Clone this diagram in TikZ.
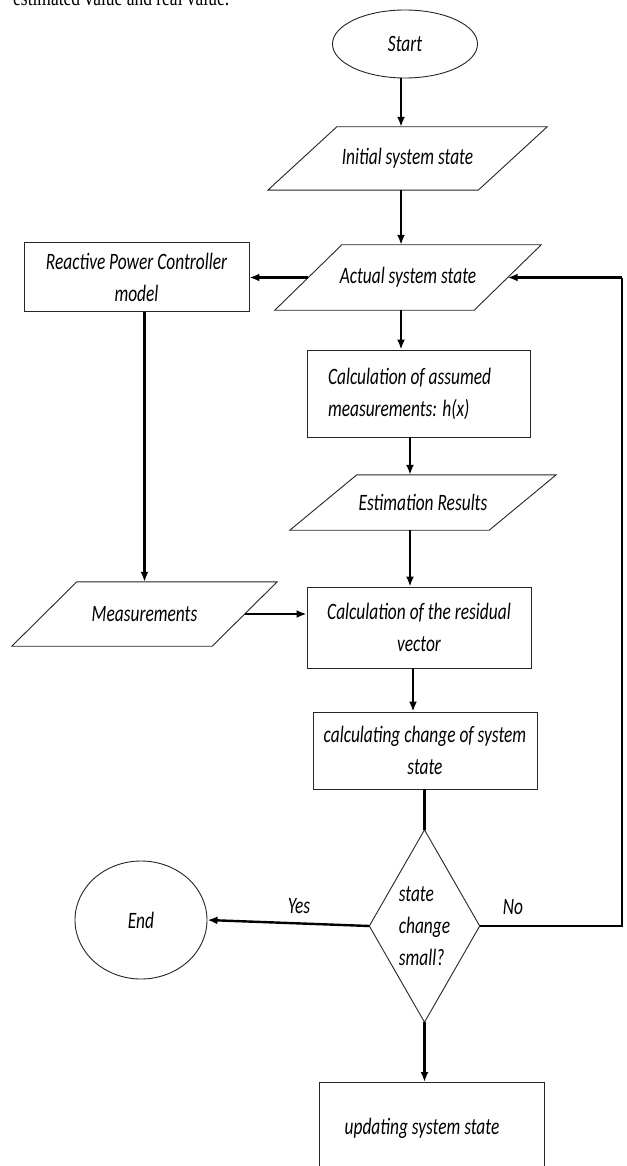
\documentclass[tikz,border=0pt]{standalone}
\usepackage{fontspec}
\newfontfamily\flowfont{Carlito}[FakeStretch=0.74]
\newfontfamily\bodyfont{Liberation Serif}[FakeStretch=0.76]
\usetikzlibrary{arrows.meta,shapes.geometric}

% slanted input/output outline around a text node: #1 node name, #2 horizontal offset
\newcommand\slantoutline[2]{%
  \draw[outline] ([xshift=#2pt]#1.north west) -- ([xshift=#2pt]#1.north east)
    -- ([xshift=-#2pt]#1.south east) -- ([xshift=-#2pt]#1.south west) -- cycle;}

\begin{document}
\begin{tikzpicture}[x=1pt,y=-1pt,
  every node/.style={font=\flowfont\itshape\fontsize{23.5}{32}\selectfont, inner sep=0pt},
  outline/.style={draw=black!85, line width=0.9pt},
  procbox/.style={outline, rectangle},
  termshape/.style={outline, ellipse},
  iobox/.style={rectangle},
  flow/.style={line width=2.4pt, -{Latex[length=10pt,width=8pt]}},
  plainflow/.style={line width=2.4pt},
  thinflow/.style={line width=1.2pt}
]
\useasboundingbox (0,0) rectangle (626,1166);
\fill[white] (0,0) rectangle (626,1166);
\clip (0,0) rectangle (626,1166);

% running text of the page above the chart
\node[font=\bodyfont\fontsize{23}{28}\selectfont, anchor=base west] (capline) at (13,6) {estimated value and real value.};

% spine columns
\coordinate (colA) at (401,0);
\coordinate (colB) at (410,0);
\coordinate (colC) at (413,0);
\coordinate (fb) at (622,277.5);

% blocks
\node[termshape, minimum width=145, minimum height=68] (start) at (405,44) {Start};

\node[iobox, minimum width=210, minimum height=63] (init) at (407.5,158.5) {Initial system state};
\slantoutline{init}{34.5}

\node[iobox, minimum width=199, minimum height=65] (act) at (408,277.5) {Actual system state};
\slantoutline{act}{33.5}

\node[procbox, minimum width=225, minimum height=69, align=center] (rpc) at (136.5,277) {Reactive Power Controller\\model};

\node[procbox, minimum width=223, minimum height=87, inner xsep=21pt] (calc) at (418.5,393.5)
  {\parbox{181pt}{\raggedright Calculation of assumed\\measurements: h(x)}};

\node[iobox, minimum width=199, minimum height=55] (est) at (423,502.5) {Estimation Results};
\slantoutline{est}{33.5}

\node[iobox, minimum width=200, minimum height=64] (meas) at (144.5,614) {Measurements};
\slantoutline{meas}{32.5}

\node[procbox, minimum width=224, minimum height=81, align=center] (res) at (419,627.5) {Calculation of the residual\\vector};

\node[procbox, minimum width=224, minimum height=77, align=center] (chg) at (425,750.5) {calculating change of system\\state};

\node[minimum width=110, minimum height=192, align=left] (dec) at (424.5,926) {state\\change\\small?};
\draw[outline] (dec.north) -- (dec.east) -- (dec.south) -- (dec.west) -- cycle;

\node[termshape, minimum width=132, minimum height=118] (end) at (141,920) {End};

\node[procbox, minimum width=225, minimum height=110, anchor=north] (upd) at (431.5,1082) {};
\node (updtext) at (422,1128) {updating system state};

\node (yes) at (299,906) {Yes};
\node (no) at (513,907) {No};

% connectors
\draw[flow] (start.south -| colA) -- (init.north -| colA);
\draw[flow] (init.south -| colA) -- (act.north -| colA);
\draw[flow] (act.south -| colA) -- (calc.north -| colA);
\draw[flow] (calc.south -| colB) -- (est.north -| colB);
\draw[flow] (est.south -| colB) -- (res.north -| colB);
\draw[flow] (res.south -| colC) -- (chg.north -| colC);
\draw[plainflow] (chg.south -| dec.north) -- (dec.north);
\draw[flow] (dec.south) -- (upd.north -| dec.south);
\draw[flow] (act.west) -- (rpc.east |- act.west);
\draw[flow] (rpc.south -| meas.north) -- (meas.north);
\draw[flow] (meas.east) -- (res.west |- meas.east);
\draw[flow] (dec.west) -- (end.east);
\draw[thinflow] (dec.east) -- (dec.east -| fb) -- (fb);
\draw[flow] (fb) -- (act.east);
\end{tikzpicture}
\end{document}
